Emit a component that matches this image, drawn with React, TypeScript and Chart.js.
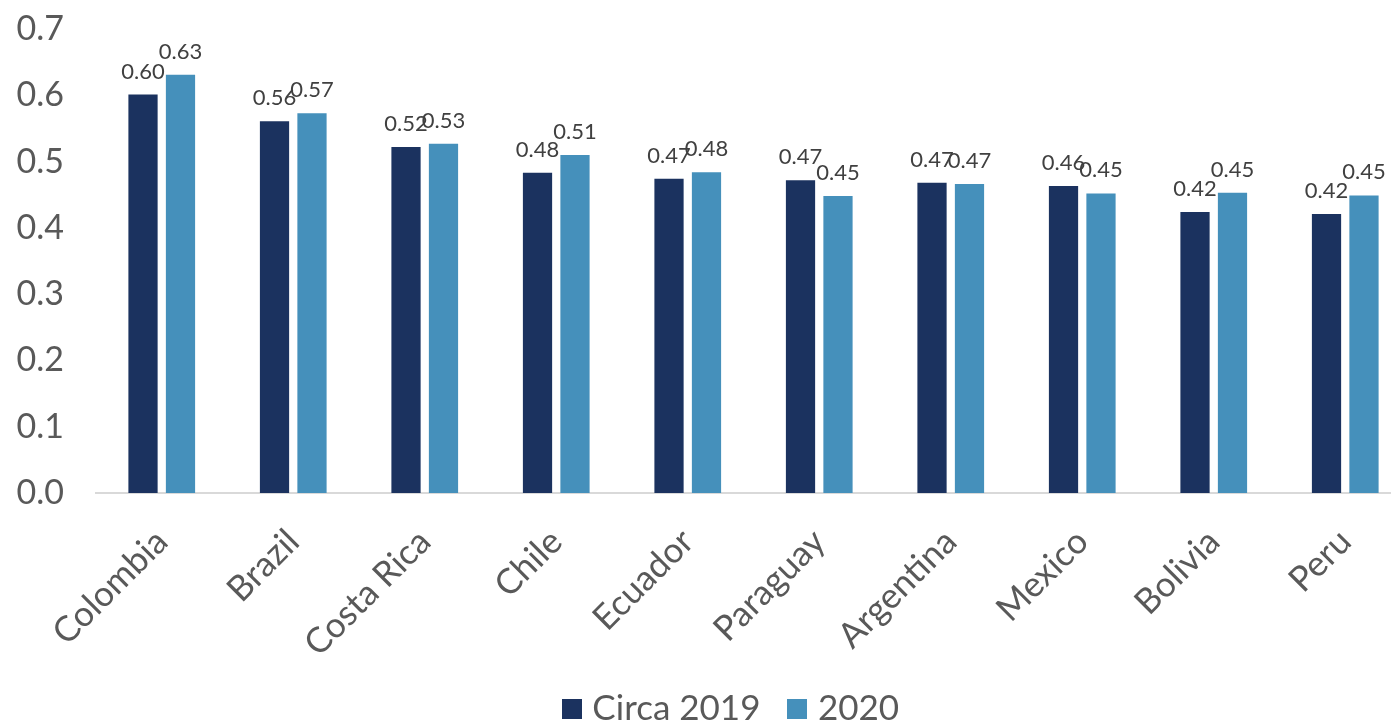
import React, { useEffect, useRef } from "react";
import { Chart, registerables } from "chart.js";

Chart.register(...registerables);

const categories = ["Colombia", "Brazil", "Costa Rica", "Chile", "Ecuador", "Paraguay", "Argentina", "Mexico", "Bolivia", "Peru"];
const circa2019 = [0.601, 0.561, 0.522, 0.483, 0.474, 0.472, 0.468, 0.463, 0.424, 0.421];
const y2020 = [0.631, 0.573, 0.527, 0.51, 0.484, 0.448, 0.466, 0.452, 0.453, 0.449];
const seriesNames = ["Circa 2019", "2020"];
const seriesColors = ["#1b325f", "#4590bb"];
const yTicks = [0, 0.1, 0.2, 0.3, 0.4, 0.5, 0.6, 0.7];

const FONT = "Lato, 'Open Sans', sans-serif";

function squareImage(color: string, size: number) {
  const c = document.createElement("canvas");
  c.width = size;
  c.height = size;
  const g = c.getContext("2d")!;
  g.fillStyle = color;
  g.fillRect(0, 0, size, size);
  return c;
}

const barLabels = {
  id: "barLabels",
  afterDatasetsDraw(chart: any) {
    const ctx = chart.ctx;
    ctx.save();
    ctx.font = `22px ${FONT}`;
    ctx.fillStyle = "#404040";
    ctx.textAlign = "center";
    ctx.textBaseline = "alphabetic";
    chart.data.datasets.forEach((ds: any, i: number) => {
      const meta = chart.getDatasetMeta(i);
      meta.data.forEach((bar: any, j: number) => {
        const v = ds.data[j] as number;
        ctx.fillText(v.toFixed(2), bar.x, bar.y - 16);
      });
    });
    ctx.restore();
  },
};

const legendShift = {
  id: "legendShift",
  afterLayout(chart: any) {
    const l = chart.legend;
    if (l) {
      l.left += 20;
      l.right += 20;
    }
  },
};

export default function App() {
  const ref = useRef<HTMLCanvasElement>(null);
  useEffect(() => {
    document.body.style.margin = "0";
    const squares = seriesColors.map((c) => squareImage(c, 20));
    const chart = new Chart(ref.current!, {
      type: "bar",
      data: {
        labels: categories,
        datasets: [
          { label: seriesNames[0], data: circa2019, backgroundColor: seriesColors[0], categoryPercentage: 0.57, barPercentage: 0.78 },
          { label: seriesNames[1], data: y2020, backgroundColor: seriesColors[1], categoryPercentage: 0.57, barPercentage: 0.78 },
        ],
      },
      options: {
        animation: false,
        responsive: false,
        layout: { autoPadding: false, padding: { left: 17, right: 47, top: 29, bottom: -11 } },
        scales: {
          x: {
            grid: { display: false },
            border: { display: true, color: "#d9d9d9", width: 2 },
            ticks: { color: "#595959", font: { family: FONT, size: 35 }, maxRotation: 45, minRotation: 45, padding: 20 },
            afterFit: (s: any) => {
              s.paddingLeft = 0;
              s.paddingRight = 0;
              s.height = 164;
            },
          },
          y: {
            min: 0,
            max: 0.7,
            grid: { display: false },
            border: { display: false },
            afterBuildTicks: (axis: any) => {
              axis.ticks = yTicks.map((v) => ({ value: v }));
            },
            afterFit: (s: any) => {
              s.paddingTop = 0;
              s.paddingBottom = 0;
              s.width = 79;
            },
            ticks: {
              color: "#595959",
              font: { family: FONT, size: 34 },
              padding: 24,
              callback: (v: any) => Number(v).toFixed(1),
            },
          },
        },
        plugins: {
          legend: {
            position: "bottom",
            labels: {
              usePointStyle: true,
              pointStyleWidth: 6,
              boxHeight: 20,
              color: "#595959",
              font: { family: FONT, size: 35 },
              padding: 34,
              generateLabels: (ch: any) => {
                const items = Chart.defaults.plugins.legend.labels.generateLabels(ch);
                return items.map((it: any, i: number) => ({ ...it, pointStyle: squares[i] }));
              },
            },
          },
          tooltip: { enabled: false },
        },
      },
      plugins: [barLabels, legendShift],
    });
    return () => chart.destroy();
  }, []);
  return (
    <div style={{ width: 1391, height: 725, overflow: "hidden", position: "relative" }}>
      <canvas ref={ref} width={1458} height={725} style={{ width: 1458, height: 725, display: "block" }} />
    </div>
  );
}
